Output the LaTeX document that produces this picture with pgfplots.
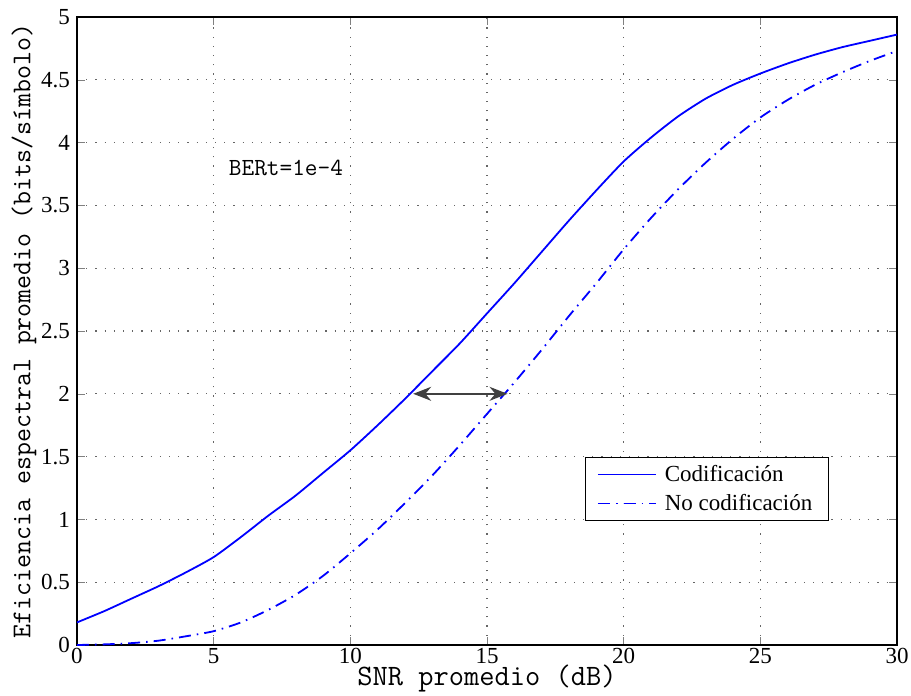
\documentclass[border=0pt]{standalone}
\usepackage{fontspec}
\setmainfont{Liberation Serif}
\usepackage{pgfplots}
\pgfplotsset{compat=1.18}
\usetikzlibrary{arrows.meta}
\begin{document}
\begin{tikzpicture}
\begin{axis}[
  width=410pt, height=314pt, scale only axis,
  xmin=0, xmax=30, ymin=0, ymax=5,
  xtick={0,5,...,30}, ytick={0,0.5,...,5},
  yticklabels={0,0.5,1,1.5,2,2.5,3,3.5,4,4.5,5},
  tick align=inside, tick pos=both,
  major tick length=4pt,
  grid=major,
  grid style={dash pattern=on 0.6pt off 4pt, black!60, line width=0.6pt},
  axis line style={line width=0.6pt},
  /pgf/number format/assume math mode=true,
  tick label style={font=\fontsize{11.5}{12}\selectfont},
  xticklabel style={yshift=2pt},
  xlabel={\ttfamily\fontsize{14.8}{15}\selectfont SNR promedio (dB)},
  ylabel={\ttfamily\fontsize{13.55}{14}\selectfont Eficiencia espectral promedio (bits/símbolo)},
  xlabel style={yshift=6.3pt},
  ylabel style={yshift=-4.5pt},
  legend cell align=left,
  legend style={at={(rel axis cs:0.917,0.299)}, anchor=north east, draw=black, line width=0.6pt,
    font=\fontsize{11.5}{13}\selectfont, inner xsep=6pt, inner ysep=1.5pt, row sep=1pt, column sep=2pt},
  legend image post style={line width=0.8pt, xscale=1.7},
]
\addplot[blue, line width=0.9pt, smooth, tension=0.4] coordinates {
(0,0.18) (1,0.27) (2,0.37) (3,0.47) (4,0.58) (5,0.70) (6,0.86) (7,1.03) (8,1.19) (9,1.37)
(10,1.55) (11,1.75) (12,1.96) (13,2.18) (14,2.40) (15,2.64) (16,2.88) (17,3.13) (18,3.38)
(19,3.62) (20,3.85) (21,4.04) (22,4.21) (23,4.35) (24,4.46) (25,4.55) (26,4.63) (27,4.70)
(28,4.76) (29,4.81) (30,4.86)};
\addlegendentry{Codificación}
\addplot[blue, line width=0.9pt, smooth, tension=0.4, dash pattern=on 6pt off 3pt on 0.8pt off 3pt] coordinates {
(0,0.0) (1,0.005) (2,0.015) (3,0.035) (4,0.07) (5,0.11) (6,0.18) (7,0.28) (8,0.40) (9,0.55)
(10,0.73) (11,0.92) (12,1.13) (13,1.35) (14,1.59) (15,1.84) (16,2.09) (17,2.35) (18,2.62)
(19,2.88) (20,3.15) (21,3.40) (22,3.63) (23,3.84) (24,4.03) (25,4.20) (26,4.34) (27,4.46)
(28,4.56) (29,4.65) (30,4.73)};
\addlegendentry{No codificación}
\draw[{Stealth[length=9pt,width=7pt]}-{Stealth[length=9pt,width=7pt]}, line width=0.7pt, black!75] (axis cs:12.3,2.0) -- (axis cs:15.75,2.0);
\node[anchor=west, font=\ttfamily\fontsize{12.3}{13}\selectfont] at (axis cs:5.3,3.8) {BERt=1e-4};
\end{axis}
\pgfresetboundingbox
\path ([shift={(-38.5pt,-25pt)}]current axis.south west) rectangle ([shift={(7pt,8.5pt)}]current axis.north east);
\end{tikzpicture}
\end{document}
